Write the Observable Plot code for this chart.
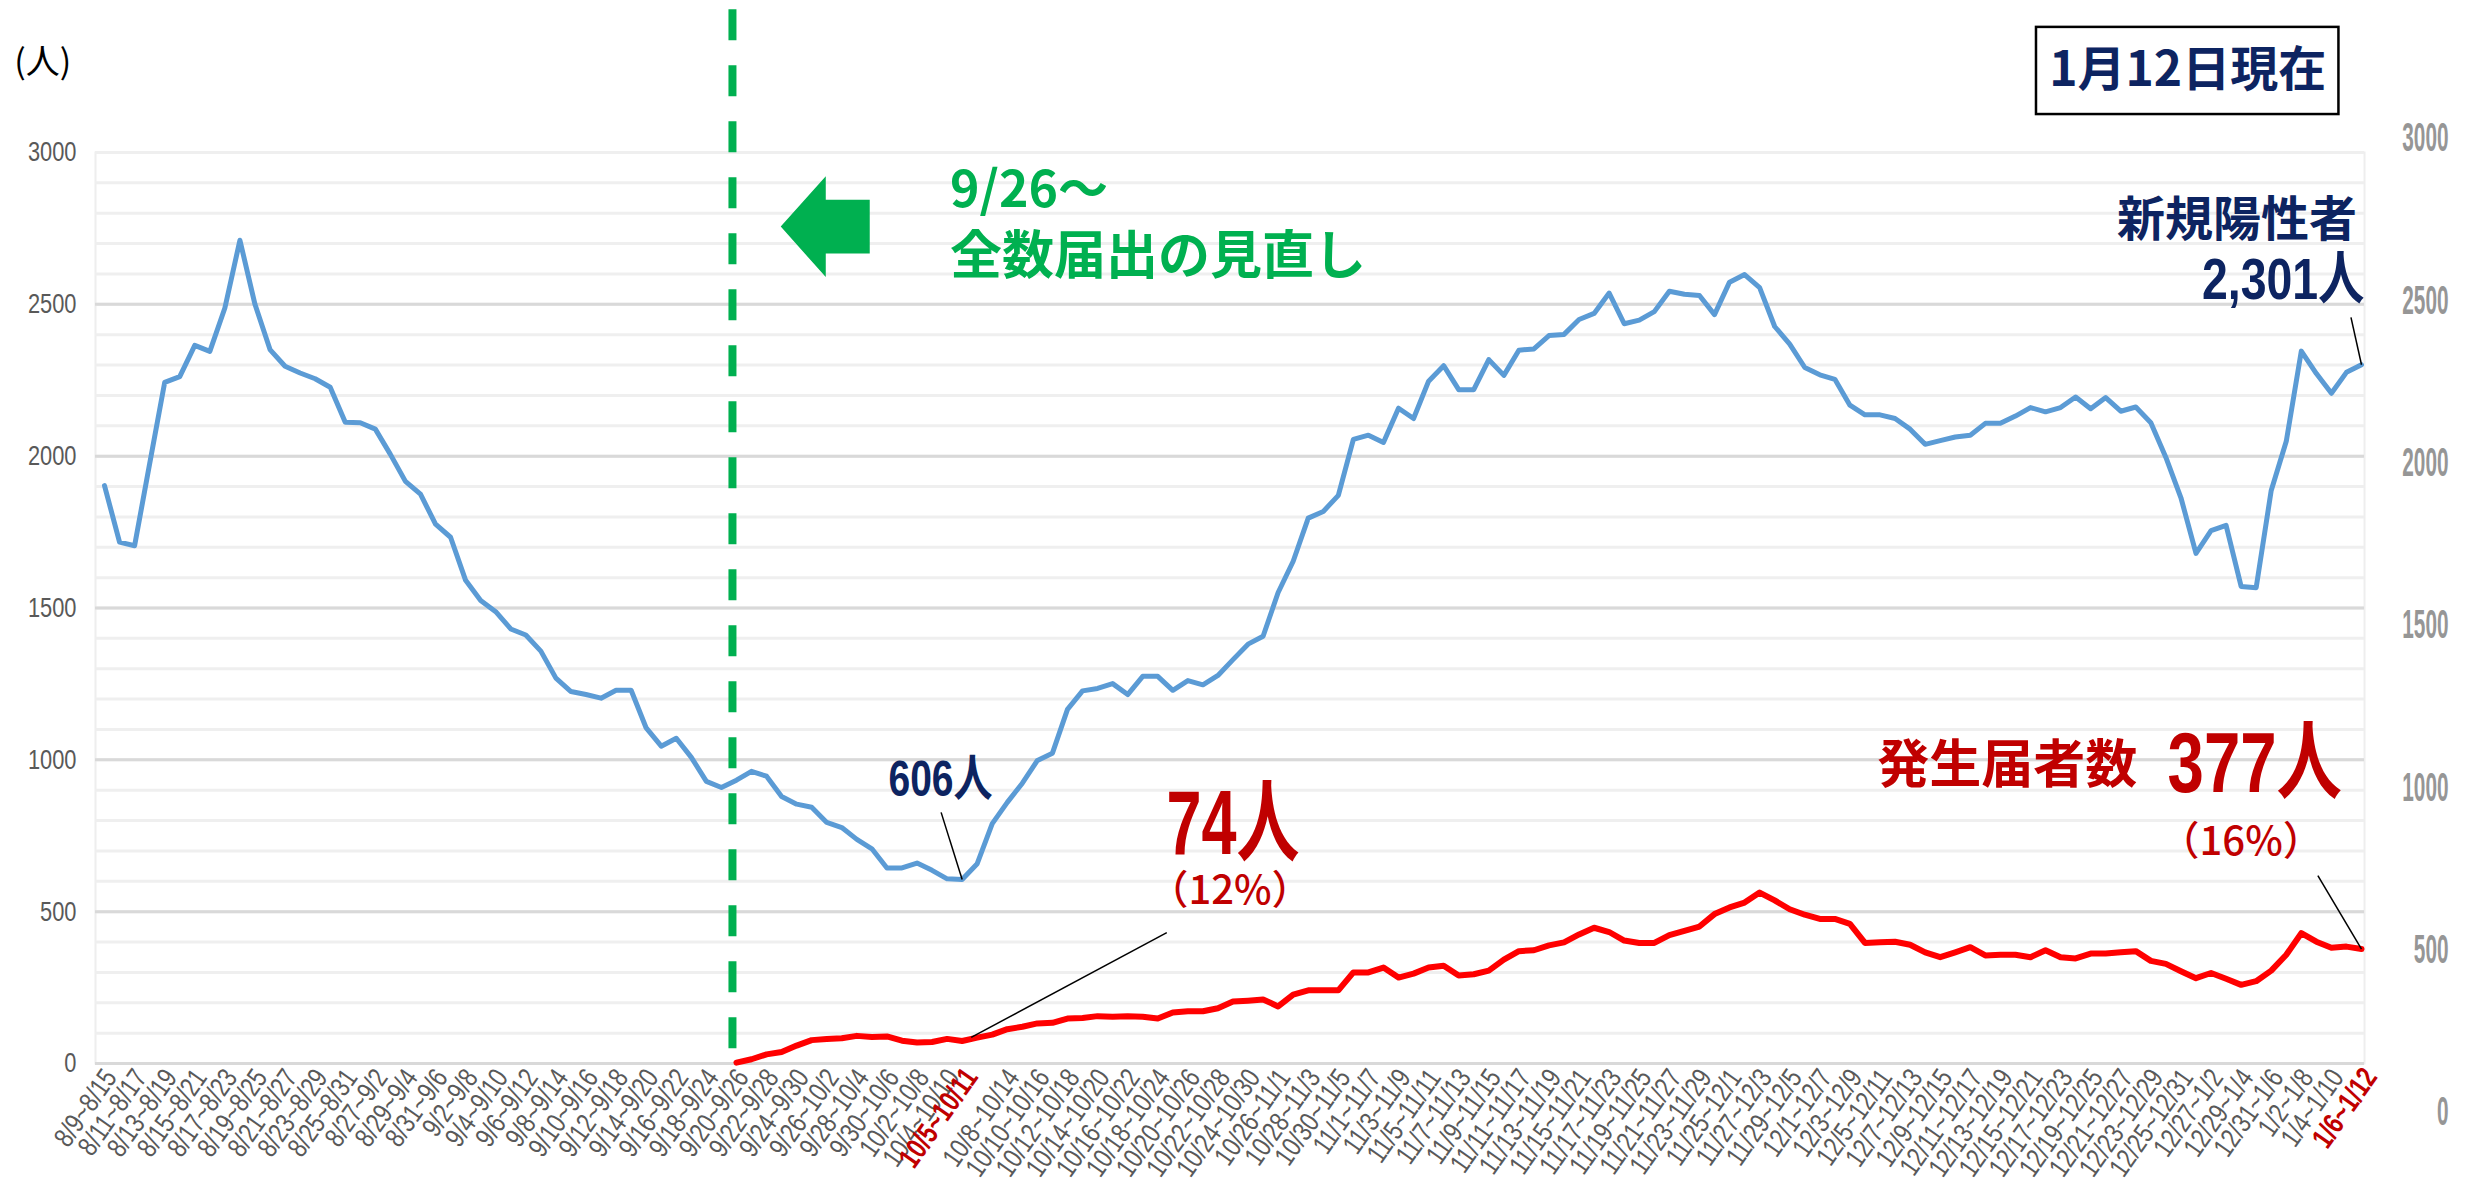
<!DOCTYPE html>
<html>
<head>
<meta charset="utf-8">
<script src="https://cdn.jsdelivr.net/npm/d3@7"></script>
<script src="https://cdn.jsdelivr.net/npm/@observablehq/plot@0.6"></script>
<style>
  html, body { margin: 0; padding: 0; background: #ffffff; }
  #chart { width: 2465px; height: 1190px; }
</style>
</head>
<body>
<div id="chart"></div>
<script>
// ---------------- DATA ----------------
// calendar days from the first window start (8/9) to the last window end (1/12)
const days = (
  "8/9 8/10 8/11 8/12 8/13 8/14 8/15 8/16 8/17 8/18 8/19 8/20 8/21 8/22 8/23 8/24 8/25 8/26 8/27 8/28 8/29 8/30 8/31 " +
  "9/1 9/2 9/3 9/4 9/5 9/6 9/7 9/8 9/9 9/10 9/11 9/12 9/13 9/14 9/15 9/16 9/17 9/18 9/19 9/20 9/21 9/22 9/23 9/24 9/25 9/26 9/27 9/28 9/29 9/30 " +
  "10/1 10/2 10/3 10/4 10/5 10/6 10/7 10/8 10/9 10/10 10/11 10/12 10/13 10/14 10/15 10/16 10/17 10/18 10/19 10/20 10/21 10/22 10/23 10/24 10/25 10/26 10/27 10/28 10/29 10/30 10/31 " +
  "11/1 11/2 11/3 11/4 11/5 11/6 11/7 11/8 11/9 11/10 11/11 11/12 11/13 11/14 11/15 11/16 11/17 11/18 11/19 11/20 11/21 11/22 11/23 11/24 11/25 11/26 11/27 11/28 11/29 11/30 " +
  "12/1 12/2 12/3 12/4 12/5 12/6 12/7 12/8 12/9 12/10 12/11 12/12 12/13 12/14 12/15 12/16 12/17 12/18 12/19 12/20 12/21 12/22 12/23 12/24 12/25 12/26 12/27 12/28 12/29 12/30 12/31 " +
  "1/1 1/2 1/3 1/4 1/5 1/6 1/7 1/8 1/9 1/10 1/11 1/12"
).split(" ");
// 7-day window categories "start~end"
const categories = days.slice(0, days.length - 6).map((d, i) => d + "~" + days[i + 6]);

// 新規陽性者 (7-day windows), one value per category
const positives = [
  1903, 1717, 1705, 1975, 2243, 2262, 2365, 2345, 2488, 2711,
  2500, 2351, 2296, 2274, 2255, 2227, 2112, 2110, 2089, 2006,
  1917, 1875, 1776, 1733, 1591, 1525, 1488, 1431, 1411, 1358,
  1269, 1225, 1215, 1203, 1229, 1229, 1105, 1045, 1071, 1008,
  929, 909, 933, 962, 946, 879, 854, 844, 794, 777,
  738, 707, 644, 644, 660, 636, 608, 606, 658, 790,
  860, 923, 998, 1022, 1166, 1227, 1235, 1251, 1215, 1275,
  1275, 1229, 1261, 1247, 1278, 1330, 1381, 1407, 1551, 1654,
  1796, 1818, 1871, 2055, 2069, 2045, 2158, 2124, 2247, 2298,
  2219, 2219, 2318, 2266, 2349, 2353, 2397, 2401, 2450, 2470,
  2537, 2436, 2448, 2476, 2543, 2533, 2529, 2466, 2573, 2598,
  2555, 2427, 2369, 2292, 2268, 2253, 2168, 2136, 2136, 2124,
  2089, 2039, 2051, 2063, 2069, 2108, 2108, 2132, 2160, 2146,
  2160, 2195, 2156, 2193, 2148, 2162, 2110, 1996, 1863, 1680,
  1755, 1772, 1571, 1567, 1887, 2049, 2346, 2272, 2207, 2276,
  2301
];

// 発生届者数, starting at the window "9/20~9/26"
const notifiedStart = "9/20~9/26";
const notified = [
  3, 14, 30, 38, 59, 77, 81, 83, 91, 87,
  89, 75, 69, 71, 81, 74, 85, 95, 113, 121,
  132, 134, 148, 150, 156, 154, 156, 154, 148, 168,
  172, 172, 182, 204, 207, 211, 188, 227, 241, 241,
  241, 300, 300, 316, 283, 296, 316, 322, 290, 294,
  306, 342, 370, 373, 389, 399, 425, 447, 433, 405,
  397, 397, 423, 437, 451, 492, 514, 530, 563, 537,
  508, 490, 476, 476, 460, 397, 399, 401, 391, 366,
  350, 366, 383, 356, 358, 358, 350, 373, 350, 346,
  362, 362, 366, 370, 338, 328, 304, 281, 298, 279,
  259, 271, 306, 358, 429, 401, 381, 385, 377
];

// axis ticks
const leftTicks = [0, 500, 1000, 1500, 2000, 2500, 3000];
const minorTicks = d3.range(0, 3001, 100);
const rightTicks = [0, 500, 1000, 1500, 2000, 2500, 3000];
const redTickLabels = ["10/5~10/11", "1/6~1/12"];
const hiddenTickLabels = ["10/6~10/12"];
const changeDate = "9/20~9/26";   // 9/26～ 全数届出の見直し

// ---------------- DERIVED ----------------
const idx = (c) => categories.indexOf(c);
const redStartIndex = idx(notifiedStart);
const grayTicks = d3.range(0, categories.length, 2)
  .filter(i => !hiddenTickLabels.includes(categories[i]) && !redTickLabels.includes(categories[i]));
const redTicks = redTickLabels.map(idx);
const lastI = categories.length - 1;
const minI = positives.indexOf(d3.min(positives.slice(redStartIndex)));

// the secondary (right) axis of the original is drawn offset and stretched
const rightOffset = -161, rightStretch = 1.069;

const sans = "'Liberation Sans','Noto Sans CJK JP',sans-serif";
const cjk = "'Noto Sans CJK JP','Noto Sans',sans-serif";
const navy = "#0d2461", red = "#c00000", green = "#00b050", rightGray = "#969696";

const blockArrow = {
  draw(context, l) {
    const hl = l * 0.506, hw = l * 0.567, sw = l * 0.303;
    context.moveTo(0, -l);
    context.lineTo(hw, -l + hl);
    context.lineTo(sw, -l + hl);
    context.lineTo(sw, 0);
    context.lineTo(-sw, 0);
    context.lineTo(-sw, -l + hl);
    context.lineTo(-hw, -l + hl);
    context.closePath();
  }
};

const plot = Plot.plot({
  width: 2465,
  height: 1190,
  marginLeft: 95,
  marginRight: 101,
  marginTop: 152,
  marginBottom: 127,
  style: { background: "#ffffff", color: "#595959", fontFamily: sans, fontSize: "24px" },
  x: { type: "linear", domain: [0, lastI], insetLeft: 9, insetRight: 3 },
  y: { domain: [0, 3000] },
  marks: [
    Plot.frame({ stroke: "#eeeeee", strokeWidth: 2 }),
    Plot.gridY(minorTicks, { stroke: "#efefef", strokeOpacity: 1, strokeWidth: 3 }),
    Plot.gridY(leftTicks.filter(t => t < 3000), { stroke: "#d9d9d9", strokeOpacity: 1, strokeWidth: 3 }),
    Plot.axisY(leftTicks, { tickSize: 0, tickPadding: 19, tickFormat: d => String(d), fontSize: 28, fontFamily: sans, fill: "#595959", label: null }),
    Plot.axisX(grayTicks, {
      tickSize: 0, tickPadding: 9, tickRotate: -55, dx: 6,
      tickFormat: i => categories[i], fontSize: 28, fontFamily: sans, fill: "#595959", label: null
    }),
    Plot.axisX(redTicks, {
      tickSize: 0, tickPadding: 8, tickRotate: -55, dx: 9,
      tickFormat: i => categories[i], fontSize: 30, fontFamily: sans, fontWeight: "bold", fill: red, label: null
    }),
    // right axis (as in the original, offset from the left scale)
    Plot.text(rightTicks, {
      x: lastI, y: d => rightOffset + rightStretch * d, text: d => String(d),
      dx: 87, textAnchor: "end", fontSize: 40, fontWeight: 700, fontFamily: sans, fill: rightGray
    }),
    // green dashed rule
    Plot.ruleX([idx(changeDate)], { y1: 3470, y2: 45, dx: -4, stroke: green, strokeWidth: 8, strokeDasharray: "31,25" }),
    Plot.vector([{ x: 47.9, y: 2756 }], {
      x: "x", y: "y", length: 89, rotate: -90, anchor: "middle",
      shape: blockArrow, fill: green, stroke: "none"
    }),
    Plot.text(["9/26～"], { x: 56.2, y: 2874, text: d => d, textAnchor: "start", fontFamily: cjk, fontWeight: 700, fontSize: 50, fill: green }),
    Plot.text(["全数届出の見直し"], { x: 56.2, y: 2656, text: d => d, textAnchor: "start", fontFamily: cjk, fontWeight: 700, fontSize: 52, fill: green }),
    // lines
    Plot.line(positives, { x: (d, i) => i, y: d => d, stroke: "#5b9bd5", strokeWidth: 5, strokeLinejoin: "round" }),
    Plot.line(notified, { x: (d, i) => redStartIndex + i, y: d => d, stroke: "#ff0000", strokeWidth: 6, strokeLinejoin: "round" }),
    // leader lines
    Plot.link([{ x1: 55.6, y1: 827, x2: minI, y2: positives[minI] }], { x1: "x1", y1: "y1", x2: "x2", y2: "y2", stroke: "#000", strokeWidth: 1.5 }),
    Plot.link([{ x1: 70.6, y1: 431, x2: minI + 0.6, y2: notified[minI - redStartIndex] + 12 }], { x1: "x1", y1: "y1", x2: "x2", y2: "y2", stroke: "#000", strokeWidth: 1.5 }),
    Plot.link([{ x1: 149.3, y1: 2457, x2: lastI, y2: positives[lastI] }], { x1: "x1", y1: "y1", x2: "x2", y2: "y2", stroke: "#000", strokeWidth: 1.5 }),
    Plot.link([{ x1: 147.1, y1: 619, x2: lastI, y2: notified[notified.length - 1] }], { x1: "x1", y1: "y1", x2: "x2", y2: "y2", stroke: "#000", strokeWidth: 1.5 }),
    // annotations
    Plot.text([positives[minI]], { x: 55.56, y: 935, text: d => d + "人", fontFamily: sans, fontWeight: 700, fontSize: 50, fill: navy }),
    Plot.text([notified[minI - redStartIndex]], { x: 75.0, y: 785, text: d => d + "人", fontFamily: sans, fontWeight: 700, fontSize: 90, fill: red }),
    Plot.text(["（12%）"], { x: 74.8, y: 568, text: d => d, fontFamily: cjk, fontWeight: 500, fontSize: 40, fill: red }),
    Plot.text(["新規陽性者"], { x: 149.7, y: 2776, text: d => d, textAnchor: "end", fontFamily: cjk, fontWeight: 700, fontSize: 48, fill: navy }),
    Plot.text([positives[lastI]], { x: 150.2, y: 2578, text: d => d3.format(",")(d) + "人", textAnchor: "end", fontFamily: sans, fontWeight: 700, fontSize: 58, fill: navy }),
    Plot.text(["発生届者数"], { x: 135.1, y: 978, text: d => d, textAnchor: "end", fontFamily: cjk, fontWeight: 700, fontSize: 52, fill: red }),
    Plot.text([notified[notified.length - 1]], { x: 148.7, y: 985, text: d => d + "人", textAnchor: "end", fontFamily: sans, fontWeight: 700, fontSize: 86, fill: red }),
    Plot.text(["（16%）"], { x: 142.0, y: 728, text: d => d, fontFamily: cjk, fontWeight: 500, fontSize: 40, fill: red }),
    // unit and date badge
    Plot.text(["(人)"], { x: -4.1, y: 3293, text: d => d, fontFamily: cjk, fontWeight: 400, fontSize: 34, fill: "#000" }),
    Plot.rect([{ x1: 128.4, x2: 148.5, y1: 3125, y2: 3412 }], { x1: "x1", x2: "x2", y1: "y1", y2: "y2", fill: "#fff", stroke: "#000", strokeWidth: 2.5 }),
    Plot.text(["1月12日現在"], { x: 138.45, y: 3268, text: d => d, fontFamily: cjk, fontWeight: 700, fontSize: 48, fill: navy })
  ]
});

// condensed lettering (the original uses a narrow typeface): squeeze glyphs horizontally
// (only the transform is extended; the text's own x/y/dy attributes stay as Plot set them)
function squeeze(nodes, k) {
  nodes.each(function () {
    const t = this.getAttribute("transform") || "";
    this.setAttribute("transform", `${t} scale(${k},1)`);
  });
}
const root = d3.select(plot);
squeeze(root.selectAll('g[aria-label="x-axis tick label"][fill="#595959"] text'), 0.79);
squeeze(root.selectAll(`g[aria-label="x-axis tick label"][fill="${red}"] text`), 0.76);
squeeze(root.selectAll('g[aria-label="y-axis tick label"] text'), 0.78);
squeeze(root.selectAll(`g[fill="${rightGray}"] text`), 0.52);
const narrowText = { "606人": 0.78, "74人": 0.7, "2,301人": 0.8, "377人": 0.76 };
root.selectAll("text").filter(function () { return narrowText[this.textContent] != null; })
  .each(function () { squeeze(d3.select(this), narrowText[this.textContent]); });

document.getElementById("chart").appendChild(plot);
</script>
</body>
</html>
